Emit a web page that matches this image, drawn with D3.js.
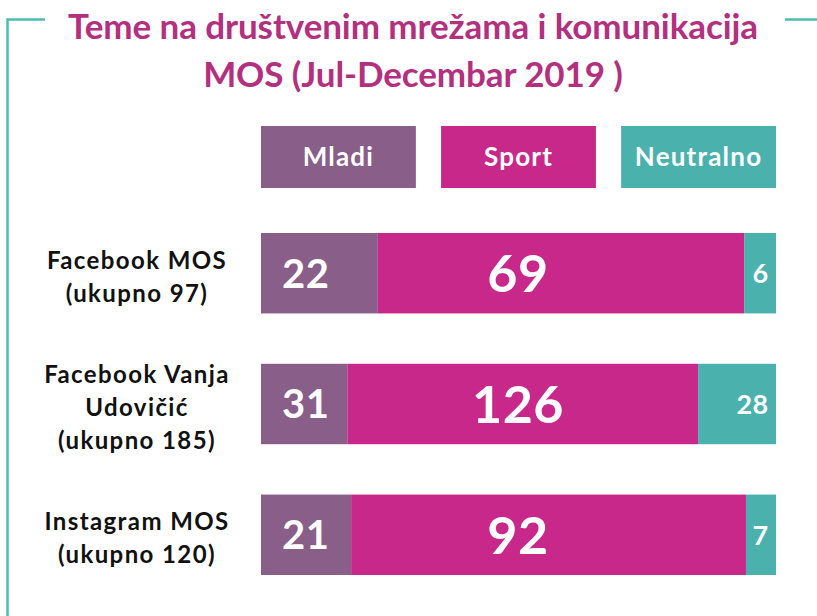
<!DOCTYPE html>
<html>
<head>
<meta charset="utf-8">
<script src="https://cdn.jsdelivr.net/npm/d3@7"></script>
<style>
  body { margin: 0; background: #fff; }
  svg { display: block; font-family: Lato, "Open Sans", sans-serif; }
</style>
</head>
<body>
<script>
const WIDTH = 817, HEIGHT = 616;

// data
const titleLines = ["Teme na društvenim mrežama i komunikacija", "MOS (Jul-Decembar 2019 )"];
const series = ["Mladi", "Sport", "Neutralno"];
const categories = [
    ["Facebook MOS", "(ukupno 97)"],
    ["Facebook Vanja", "Udovičić", "(ukupno 185)"],
    ["Instagram MOS", "(ukupno 120)"]
];
const mladi = [22, 31, 21];
const sport = [69, 126, 92];
const neutralno = [6, 28, 7];

const colors = ["#895e89", "#c8288a", "#4ab1ad"];
const labelSize = [40, 52, 27];
const labelPos = [0.087, 0.499, 0.986];
const labelAnchor = ["middle", "middle", "end"];

const rows = categories.map((c, i) => ({
    name: c, Mladi: mladi[i], Sport: sport[i], Neutralno: neutralno[i],
    total: mladi[i] + sport[i] + neutralno[i]
}));

const svg = d3.select("body").append("svg")
    .attr("width", WIDTH).attr("height", HEIGHT);

// frame lines
const frameColor = "#4dbab3";
svg.append("path")
    .attr("d", "M45,19.5 H7.5 V616")
    .attr("fill", "none").attr("stroke", frameColor).attr("stroke-width", 2.5);
svg.append("path")
    .attr("d", "M785,19.5 H817")
    .attr("fill", "none").attr("stroke", frameColor).attr("stroke-width", 2.5);

// title
svg.selectAll("text.title")
    .data(titleLines)
    .enter()
    .append("text")
    .attr("class", "title")
    .attr("x", 413)
    .attr("y", (d, i) => 39 + i * 48)
    .attr("text-anchor", "middle")
    .attr("font-size", "35px")
    .attr("font-weight", 700)
    .attr("letter-spacing", "-0.1px")
    .attr("fill", "#b3307f")
    .text(d => d);

const x = d3.scaleLinear().domain([0, 1]).range([261, 776]);
const y = d3.scaleBand().domain(d3.range(rows.length)).range([233, 575]).paddingInner(0.385);

// legend boxes
const legend = d3.scaleBand().domain(series).range([261, 776]).paddingInner(0.14);
const lg = svg.selectAll("g.legend")
    .data(series)
    .enter()
    .append("g")
    .attr("class", "legend");
lg.append("rect")
    .attr("x", d => legend(d))
    .attr("y", 126)
    .attr("width", legend.bandwidth())
    .attr("height", 62)
    .attr("fill", (d, i) => colors[i]);
lg.append("text")
    .attr("x", d => legend(d) + legend.bandwidth() / 2)
    .attr("y", 157)
    .attr("dy", "0.36em")
    .attr("text-anchor", "middle")
    .attr("font-size", "26px")
    .attr("font-weight", 700)
    .attr("letter-spacing", "1.2px")
    .attr("fill", "#fff")
    .text(d => d);

// stacked shares
const stack = d3.stack().keys(series).value((d, key) => d[key] / d.total);
const layers = stack(rows);

const layer = svg.selectAll("g.layer")
    .data(layers)
    .enter()
    .append("g")
    .attr("class", "layer")
    .attr("fill", (d, i) => colors[i]);

layer.selectAll("rect")
    .data(d => d)
    .enter()
    .append("rect")
    .attr("x", d => x(d[0]))
    .attr("y", (d, i) => y(i))
    .attr("width", d => x(d[1]) - x(d[0]))
    .attr("height", y.bandwidth());

// value labels
layers.forEach((ly, s) => {
    svg.append("g").selectAll("text")
        .data(ly)
        .enter()
        .append("text")
        .attr("x", x(labelPos[s]))
        .attr("y", (d, i) => y(i) + y.bandwidth() / 2)
        .attr("dy", "0.36em")
        .attr("text-anchor", labelAnchor[s])
        .attr("font-size", labelSize[s] + "px")
        .attr("font-weight", 700)
        .attr("letter-spacing", "0.5px")
        .attr("fill", "#fff")
        .text(d => d.data[series[s]]);
});

// category labels
svg.selectAll("text.cat")
    .data(rows)
    .enter()
    .append("text")
    .attr("class", "cat")
    .attr("text-anchor", "middle")
    .attr("font-size", "24px")
    .attr("font-weight", 700)
    .attr("letter-spacing", "1.4px")
    .attr("fill", "#111")
    .each(function(d, i) {
        const n = d.name.length;
        const cy = y(i) + y.bandwidth() / 2;
        d3.select(this).selectAll("tspan")
            .data(d.name)
            .enter()
            .append("tspan")
            .attr("x", 137)
            .attr("y", (t, j) => cy + (j - (n - 1) / 2) * 33 + 12)
            .text(t => t);
    });
</script>
</body>
</html>
